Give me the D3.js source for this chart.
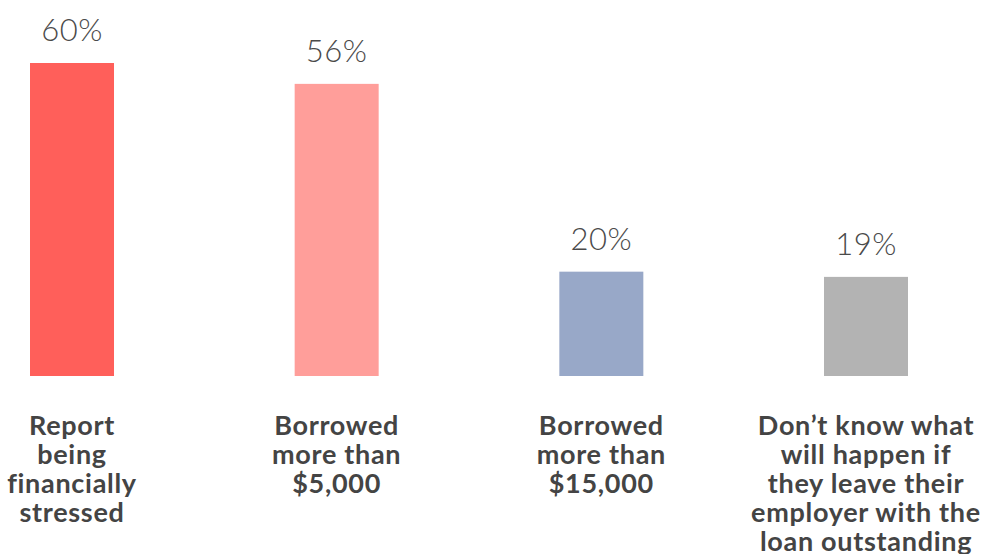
<!DOCTYPE html>
<html><head><meta charset="utf-8">
<script src="https://cdn.jsdelivr.net/npm/d3@7"></script>
<style>body{margin:0;background:#fff;}svg{display:block;}</style>
</head><body>
<svg id="c" width="998" height="554"></svg>
<script>
const categories = [
  ["Report", "being", "financially", "stressed"],
  ["Borrowed", "more than", "$5,000"],
  ["Borrowed", "more than", "$15,000"],
  ["Don\u2019t know what", "will happen if", "they leave their", "employer with the", "loan outstanding"]
];
const values = [60, 56, 20, 19];
const colors = ["#FF5F5A", "#FF9E9A", "#98A8C8", "#B3B3B3"];

const svg = d3.select("#c");
const x = d3.scaleBand().domain(d3.range(values.length)).range([30, 908]).paddingInner(0.6826).paddingOuter(0);
const y = d3.scaleLinear().domain([0, 60]).range([376, 63]);

svg.selectAll("rect.bar").data(values).join("rect")
  .attr("class", "bar")
  .attr("x", (d, i) => x(i))
  .attr("y", d => y(d))
  .attr("width", x.bandwidth())
  .attr("height", d => y(0) - y(d))
  .attr("fill", (d, i) => colors[i]);

svg.selectAll("text.val").data(values).join("text")
  .attr("class", "val")
  .attr("x", (d, i) => x(i) + x.bandwidth() / 2)
  .attr("y", d => y(d) - 22)
  .attr("text-anchor", "middle")
  .attr("font-family", "Lato")
  .attr("font-weight", 300)
  .attr("font-size", 31)
  .attr("letter-spacing", 0.5)
  .attr("fill", "#4a4a4a")
  .text(d => d + "%");

const cat = svg.selectAll("text.cat").data(categories).join("text")
  .attr("class", "cat")
  .attr("text-anchor", "middle")
  .attr("font-family", "Lato")
  .attr("font-weight", 700)
  .attr("font-size", 27)
  .attr("letter-spacing", 0.7)
  .attr("fill", "#444");
cat.each(function(lines, i) {
  const t = d3.select(this);
  lines.forEach((l, j) => {
    t.append("tspan")
      .attr("x", x(i) + x.bandwidth() / 2)
      .attr("y", 435 + j * 29)
      .text(l);
  });
});
</script>
</body></html>
